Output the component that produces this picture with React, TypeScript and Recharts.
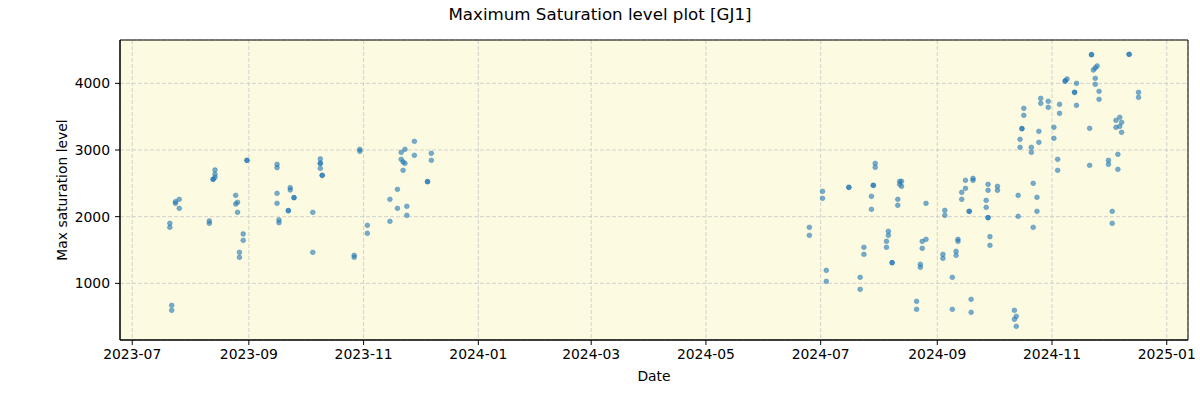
import React from 'react';
import {
  ScatterChart, Scatter, XAxis, YAxis, CartesianGrid, ReferenceArea, ZAxis,
} from 'recharts';

// 2023 observing season
const dates2023 = [
  '2023-07-21', '2023-07-21', '2023-07-22', '2023-07-22', '2023-07-24', '2023-07-24',
  '2023-07-26', '2023-07-26', '2023-08-11', '2023-08-11', '2023-08-13', '2023-08-13',
  '2023-08-14', '2023-08-14', '2023-08-14', '2023-08-25', '2023-08-25', '2023-08-26',
  '2023-08-26', '2023-08-27', '2023-08-27', '2023-08-29', '2023-08-29', '2023-08-31',
  '2023-08-31', '2023-09-16', '2023-09-16', '2023-09-16', '2023-09-16', '2023-09-17',
  '2023-09-17', '2023-09-22', '2023-09-22', '2023-09-23', '2023-09-23', '2023-09-25',
  '2023-09-25', '2023-10-05', '2023-10-05', '2023-10-09', '2023-10-09', '2023-10-09',
  '2023-10-09', '2023-10-10', '2023-10-10', '2023-10-27', '2023-10-27', '2023-10-30',
  '2023-10-30', '2023-11-03', '2023-11-03', '2023-11-15', '2023-11-15', '2023-11-19',
  '2023-11-19', '2023-11-21', '2023-11-21', '2023-11-22', '2023-11-22', '2023-11-23',
  '2023-11-23', '2023-11-24', '2023-11-24', '2023-11-28', '2023-11-28', '2023-12-05',
  '2023-12-05', '2023-12-07', '2023-12-07',
];
const values2023 = [
  1900, 1840, 670, 595, 2224, 2200,
  2260, 2125, 1935, 1900, 2560, 2560,
  2700, 2635, 2590, 2320, 2190, 2215,
  2065, 1465, 1390, 1740, 1645, 2845,
  2845, 2785, 2735, 2350, 2200, 1950,
  1910, 2090, 2090, 2435, 2400, 2285,
  2285, 2065, 1465, 2865, 2725, 2800,
  2800, 2620, 2620, 1420, 1390, 3010,
  2980, 1870, 1750, 1930, 2260, 2410,
  2125, 2965, 2860, 2820, 2695, 3010,
  2800, 2155, 2020, 3130, 2920, 2525,
  2525, 2950, 2845,
];

// 2024 observing season
const dates2024 = [
  '2024-06-25', '2024-06-25', '2024-07-02', '2024-07-02', '2024-07-04', '2024-07-04',
  '2024-07-16', '2024-07-16', '2024-07-22', '2024-07-22', '2024-07-24', '2024-07-24',
  '2024-07-28', '2024-07-28', '2024-07-29', '2024-07-29', '2024-07-30', '2024-07-30',
  '2024-08-05', '2024-08-05', '2024-08-06', '2024-08-06', '2024-08-08', '2024-08-08',
  '2024-08-11', '2024-08-11', '2024-08-12', '2024-08-12', '2024-08-13', '2024-08-13',
  '2024-08-21', '2024-08-21', '2024-08-23', '2024-08-23', '2024-08-24', '2024-08-24',
  '2024-08-26', '2024-08-26', '2024-09-04', '2024-09-04', '2024-09-05', '2024-09-05',
  '2024-09-09', '2024-09-09', '2024-09-12', '2024-09-12', '2024-09-11', '2024-09-11',
  '2024-09-14', '2024-09-14', '2024-09-16', '2024-09-16', '2024-09-18', '2024-09-18',
  '2024-09-19', '2024-09-19', '2024-09-20', '2024-09-20', '2024-09-27', '2024-09-27',
  '2024-09-28', '2024-09-28', '2024-09-28', '2024-09-28', '2024-09-29', '2024-09-29',
  '2024-10-03', '2024-10-03', '2024-10-12', '2024-10-12', '2024-10-13', '2024-10-13',
  '2024-10-14', '2024-10-14', '2024-10-15', '2024-10-15', '2024-10-16', '2024-10-16',
  '2024-10-17', '2024-10-17', '2024-10-21', '2024-10-21', '2024-10-22', '2024-10-22',
  '2024-10-24', '2024-10-24', '2024-10-25', '2024-10-25', '2024-10-26', '2024-10-26',
  '2024-10-30', '2024-10-30', '2024-11-02', '2024-11-02', '2024-11-04', '2024-11-04',
  '2024-11-05', '2024-11-05', '2024-11-08', '2024-11-08', '2024-11-09', '2024-11-13',
  '2024-11-13', '2024-11-14', '2024-11-14', '2024-11-21', '2024-11-21', '2024-11-22',
  '2024-11-22', '2024-11-23', '2024-11-24', '2024-11-24', '2024-11-24', '2024-11-25',
  '2024-11-26', '2024-11-26', '2024-12-01', '2024-12-01', '2024-12-03', '2024-12-03',
  '2024-12-05', '2024-12-05', '2024-12-06', '2024-12-06', '2024-12-07', '2024-12-07',
  '2024-12-08', '2024-12-08', '2024-12-12', '2024-12-12', '2024-12-17', '2024-12-17',
];
const values2024 = [
  1840, 1720, 2380, 2275, 1195, 1030,
  2440, 2440, 1090, 910, 1540, 1435,
  2305, 2110, 2470, 2470, 2800, 2740,
  1630, 1540, 1780, 1720, 1310, 1310,
  2260, 2170, 2530, 2485, 2530, 2455,
  730, 610, 1285, 1240, 1630, 1525,
  1660, 2200, 1435, 1375, 2095, 2020,
  1090, 610, 1660, 1630, 1480, 1420,
  2365, 2260, 2545, 2425, 2080, 2080,
  760, 565, 2575, 2545, 2245, 2140,
  1985, 1985, 2485, 2395, 1700, 1570,
  2455, 2395, 595, 460, 505, 355,
  2320, 2005, 3160, 3040, 3320, 3320,
  3625, 3520, 3040, 2965, 2500, 1840,
  2290, 2080, 3280, 3115, 3775, 3700,
  3730, 3640, 3340, 3175, 2860, 2695,
  3685, 3550, 4035, 4035, 4065, 3865,
  3865, 4000, 3670, 3325, 2770, 4430,
  4430, 4200, 4230, 4075, 3985, 4260,
  3880, 3760, 2845, 2785, 2080, 1900,
  3445, 3340, 2935, 2710, 3490, 3355,
  3415, 3265, 4435, 4435, 3865, 3790,
];

const xTickLabels = [
  '2023-07', '2023-09', '2023-11', '2024-01', '2024-03',
  '2024-05', '2024-07', '2024-09', '2024-11', '2025-01',
];
const yTicks = [1000, 2000, 3000, 4000];

const FONT = '"DejaVu Sans", sans-serif';

const toTs = (s: string) => Date.parse(s + 'T00:00:00Z');

const data = [
  ...dates2023.map((d, i) => ({ t: toTs(d), v: values2023[i] })),
  ...dates2024.map((d, i) => ({ t: toTs(d), v: values2024[i] })),
];

const xTicks = xTickLabels.map((l) => toTs(l + '-01'));
const xDomain = [Date.UTC(2023, 5, 24, 12), Date.UTC(2025, 0, 12, 7)];
const yDomain = [150, 4650];

const fmtDate = (ts: number) => {
  const d = new Date(ts);
  const m = d.getUTCMonth() + 1;
  return `${d.getUTCFullYear()}-${m < 10 ? '0' + m : m}`;
};

const Dot = (props: any) => {
  const { cx, cy } = props;
  if (cx == null || cy == null) return null;
  return (
    <circle
      cx={cx}
      cy={cy}
      r={2.4}
      fill="#1f77b4"
      fillOpacity={0.6}
      stroke="#1f77b4"
      strokeOpacity={0.6}
      strokeWidth={0.6}
    />
  );
};

export default function App() {
  return (
    <div style={{ position: 'absolute', left: 0, top: 0, width: 1200, height: 400, background: '#fff' }}>
      <div
        style={{
          position: 'absolute', left: 0, top: 5, width: 1200, textAlign: 'center',
          fontFamily: FONT, fontSize: 16.67, lineHeight: '20px', color: '#000',
        }}
      >
        Maximum Saturation level plot [GJ1]
      </div>
      <ScatterChart
        width={1200}
        height={400}
        margin={{ top: 40, right: 12, bottom: 0, left: 0 }}
      >
        <CartesianGrid
          fill="#fcfae1"
          stroke="#c8c8c8"
          strokeDasharray="4 2"
          strokeWidth={0.8}
        />
        <XAxis
          dataKey="t"
          type="number"
          scale="time"
          domain={xDomain}
          ticks={xTicks}
          tickFormatter={fmtDate}
          allowDataOverflow
          height={60}
          tickSize={5}
          tickMargin={4}
          stroke="#000"
          tick={{ fill: '#000', fontSize: 13.9, fontFamily: FONT }}
          label={{
            value: 'Date', position: 'insideBottom', offset: 19,
            style: { fill: '#000', fontSize: 13.9, fontFamily: FONT },
          }}
        />
        <YAxis
          dataKey="v"
          type="number"
          domain={yDomain}
          ticks={yTicks}
          allowDataOverflow
          width={120}
          tickSize={5}
          tickMargin={5}
          stroke="#000"
          tick={{ fill: '#000', fontSize: 13.9, fontFamily: FONT }}
          label={{
            value: 'Max saturation level', angle: -90, position: 'insideLeft', offset: 62,
            style: { fill: '#000', fontSize: 13.9, fontFamily: FONT, textAnchor: 'middle' },
          }}
        />
        <ZAxis range={[20, 20]} />
        <Scatter data={data} shape={<Dot />} isAnimationActive={false} />
        <ReferenceArea
          x1={xDomain[0]}
          x2={xDomain[1]}
          y1={yDomain[0]}
          y2={yDomain[1]}
          ifOverflow="visible"
          fill="none"
          fillOpacity={0}
          stroke="#000"
          strokeWidth={1}
          strokeOpacity={1}
        />
      </ScatterChart>
    </div>
  );
}
